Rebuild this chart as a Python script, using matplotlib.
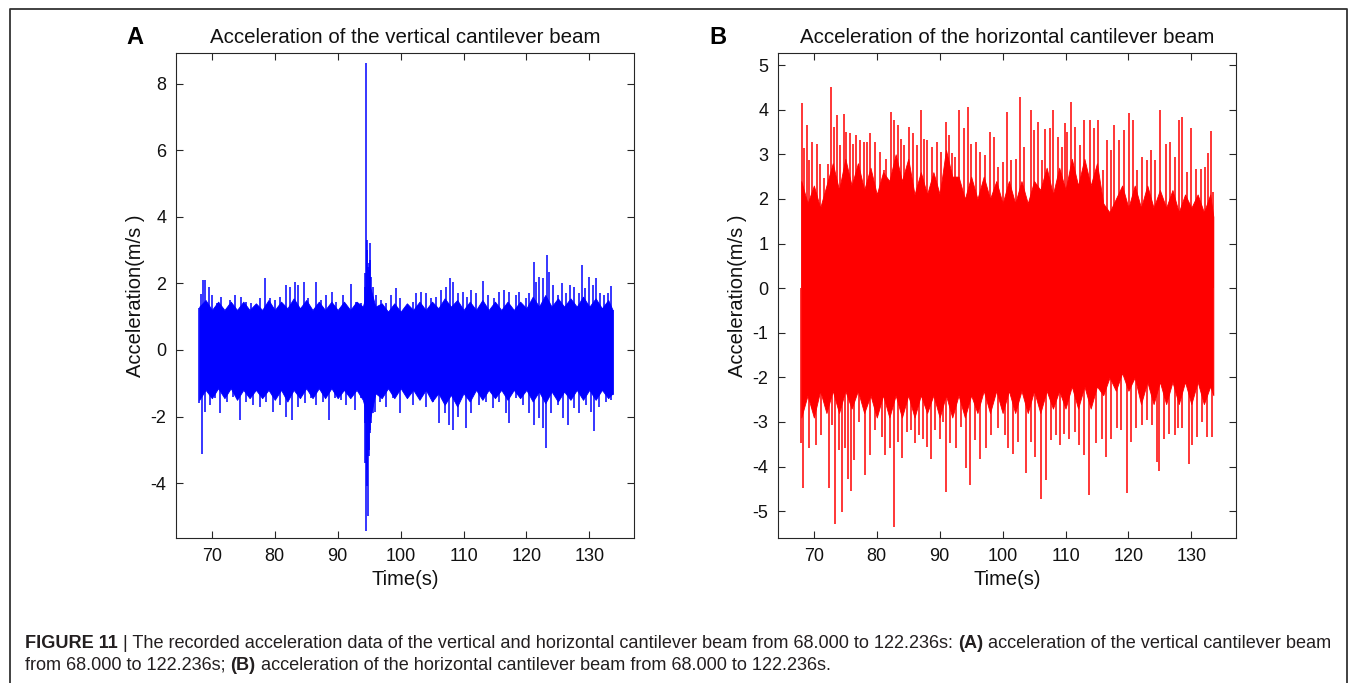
import matplotlib
matplotlib.use("Agg")
import matplotlib.pyplot as plt
from matplotlib.lines import Line2D

plt.rcParams['font.family'] = ['Liberation Sans', 'DejaVu Sans']

# ---------------- data ----------------
# Panel A: vertical cantilever beam - positive peaks
a_hi_t = [67.99, 68.20, 68.62, 68.89, 69.58, 69.95, 70.74, 71.53, 72.86, 73.65, 74.71, 75.50,
          76.30, 77.62, 78.41, 79.21, 80.00, 80.79, 81.85, 82.38, 83.17, 83.70, 84.60, 85.29,
          86.61, 87.41, 88.20, 89.15, 89.79, 90.85, 92.06, 92.96, 93.76, 96.14, 96.93, 97.72,
          98.52, 99.31, 99.84, 100.90, 101.96, 102.49, 103.28, 104.07, 104.87, 105.66, 106.46,
          107.25, 107.88, 108.31, 109.10, 109.89, 110.53, 111.22, 112.01, 113.07, 113.86,
          114.92, 115.71, 116.51, 117.30, 118.36, 118.89, 119.95, 120.48, 121.16, 121.53,
          122.06, 122.59, 123.28, 123.65, 124.18, 124.97, 125.66, 126.30, 126.93, 127.62,
          128.31, 128.84, 129.37, 129.89, 130.53, 131.06, 131.69, 132.38, 132.91, 133.49, 133.70]
a_hi_v = [1.25, 1.67, 2.10, 2.10, 1.90, 1.65, 1.40, 1.60, 1.50, 1.65, 1.60, 1.45,
          1.40, 1.55, 2.15, 1.55, 1.50, 1.60, 1.95, 1.90, 2.05, 1.95, 2.05, 1.55,
          2.05, 1.50, 1.65, 1.75, 1.45, 1.65, 1.97, 1.45, 1.40, 1.65, 1.50, 1.40,
          1.65, 1.85, 1.55, 1.30, 1.45, 1.70, 1.75, 1.70, 1.55, 1.60, 1.80,
          1.90, 2.15, 2.05, 1.70, 1.75, 1.60, 1.80, 1.70, 2.07, 1.65,
          1.55, 1.75, 1.80, 1.75, 1.65, 1.75, 1.55, 1.70, 2.63, 2.05,
          2.20, 2.15, 2.85, 2.35, 1.95, 1.65, 2.00, 1.70, 1.95, 1.90,
          1.70, 2.55, 1.85, 2.20, 1.95, 2.15, 1.70, 1.65, 1.70, 1.93, 1.20]
# Panel A: negative peaks
a_lo_t = [67.99, 68.36, 68.89, 69.68, 70.48, 71.27, 72.33, 73.39, 74.55, 75.50, 76.56, 77.62,
          78.68, 79.74, 80.79, 81.85, 82.80, 83.70, 84.76, 85.82, 86.61, 87.67, 88.57, 89.52,
          90.58, 91.38, 92.70, 93.76, 95.87, 96.67, 97.72, 98.78, 99.84, 101.96, 103.02,
          104.07, 105.13, 106.08, 106.98, 107.67, 108.31, 109.10, 110.32, 111.22, 112.54,
          113.60, 114.66, 115.71, 116.77, 117.30, 118.36, 119.42, 120.48, 121.27, 122.06,
          122.59, 123.12, 123.92, 124.97, 125.77, 126.56, 127.62, 128.41, 129.47, 130.26,
          130.79, 131.59, 132.65, 133.49, 133.70]
a_lo_v = [-1.60, -3.13, -1.85, -1.65, -1.45, -1.90, -1.55, -1.40, -2.10, -1.55, -1.65, -1.70,
          -1.55, -1.85, -1.65, -2.00, -2.10, -1.70, -1.60, -1.45, -1.65, -1.55, -2.10, -1.45,
          -1.50, -1.65, -1.80, -1.45, -1.85, -1.55, -1.70, -1.45, -1.90, -1.65, -1.45,
          -1.70, -1.55, -2.20, -1.90, -2.25, -2.40, -2.00, -2.35, -1.90, -1.65,
          -1.55, -1.75, -1.55, -1.90, -2.20, -1.45, -1.65, -1.90, -2.25, -2.05,
          -2.35, -2.95, -1.90, -1.65, -2.05, -2.25, -1.75, -1.90, -1.65, -1.85,
          -2.45, -1.70, -1.55, -1.50, -1.35]
# Panel A: impact event around 94.5 s
a_ev_t = [94.30, 94.40, 94.50, 94.60, 94.70, 94.80, 94.90, 95.00, 95.10, 95.20, 95.35, 95.55]
a_ev_hi = [1.90, 2.30, 8.63, 3.00, 3.30, 2.50, 2.40, 2.60, 3.20, 2.70, 2.20, 1.90]
a_ev_lo = [-2.20, -3.40, -5.45, -4.10, -3.60, -5.00, -3.20, -3.00, -2.50, -2.40, -2.20, -1.90]
# Panel A: dense band (jagged edges)
a_core_t = [68, 69, 70, 71, 72, 73, 74, 75, 76, 77, 78, 79, 80, 81, 82, 83, 84, 85, 86, 87,
            88, 89, 90, 91, 92, 93, 94, 95, 96, 97, 98, 99, 100, 101, 102, 103, 104, 105,
            106, 107, 108, 109, 110, 111, 112, 113, 114, 115, 116, 117, 118, 119, 120, 121,
            122, 123, 124, 125, 126, 127, 128, 129, 130, 131, 132, 133, 133.7]
a_core_hi = [1.30, 1.50, 1.20, 1.45, 1.20, 1.45, 1.20, 1.45, 1.20, 1.40, 1.20, 1.50, 1.20,
             1.45, 1.25, 1.55, 1.25, 1.50, 1.20, 1.45, 1.20, 1.45, 1.20, 1.45, 1.20, 1.45,
             1.30, 2.00, 1.30, 1.40, 1.15, 1.40, 1.15, 1.40, 1.20, 1.45, 1.20, 1.45, 1.25,
             1.55, 1.30, 1.50, 1.20, 1.45, 1.20, 1.50, 1.20, 1.45, 1.20, 1.45, 1.20, 1.45,
             1.25, 1.60, 1.30, 1.65, 1.30, 1.55, 1.30, 1.55, 1.30, 1.60, 1.30, 1.55, 1.25,
             1.50, 1.20]
a_core_lo = [-1.50, -1.20, -1.45, -1.15, -1.45, -1.15, -1.50, -1.20, -1.45, -1.20, -1.45,
             -1.20, -1.50, -1.20, -1.55, -1.20, -1.45, -1.15, -1.45, -1.15, -1.45, -1.15,
             -1.45, -1.20, -1.45, -1.20, -1.50, -2.20, -1.30, -1.45, -1.15, -1.45, -1.15,
             -1.45, -1.20, -1.50, -1.20, -1.55, -1.30, -1.65, -1.35, -1.70, -1.30, -1.55,
             -1.20, -1.50, -1.20, -1.45, -1.20, -1.50, -1.20, -1.45, -1.20, -1.55, -1.25,
             -1.60, -1.25, -1.55, -1.25, -1.50, -1.20, -1.50, -1.20, -1.50, -1.20, -1.45, -1.30]

# Panel B: horizontal cantilever beam - positive peaks
b_hi_t = [68.15, 68.42, 68.84, 69.21, 69.74, 70.53, 71.05, 71.58, 72.21, 72.79, 73.16, 73.69,
          74.22, 74.74, 75.17, 75.69, 76.22, 76.64, 77.27, 77.91, 78.43, 78.86, 79.75, 80.44,
          81.07, 81.49, 82.23, 82.81, 83.34, 83.81, 84.34, 85.13, 85.81, 86.34, 87.03, 87.50,
          88.03, 88.71, 89.50, 90.14, 90.93, 91.51, 92.03, 92.46, 93.04, 93.83, 94.46, 95.04,
          95.83, 96.36, 97.15, 97.94, 98.57, 99.26, 100.05, 100.73, 101.37, 102.16, 102.79,
          103.47, 104.48, 105.06, 105.69, 106.27, 106.69, 107.53, 107.95, 108.75, 109.43,
          109.91, 110.27, 110.91, 111.54, 112.28, 112.96, 113.86, 114.54, 115.23, 116.02,
          116.65, 117.18, 117.71, 118.50, 119.29, 120.08, 120.71, 121.40, 122.19, 122.98,
          123.66, 124.19, 125.09, 125.98, 126.67, 127.35, 128.09, 128.51, 129.36, 129.99,
          130.73, 131.52, 132.20, 132.62, 133.10, 133.42]
b_hi_v = [4.14, 3.13, 3.65, 2.87, 3.28, 3.24, 2.79, 2.46, 2.79, 4.50, 3.62, 3.88,
          3.20, 3.91, 3.50, 3.47, 3.24, 3.43, 3.32, 3.28, 3.28, 3.48, 3.28, 3.05,
          2.64, 2.90, 3.94, 3.76, 3.65, 3.35, 3.20, 3.62, 3.48, 3.20, 4.00, 3.35,
          3.32, 3.17, 3.28, 3.05, 3.73, 3.43, 3.02, 2.94, 4.00, 3.58, 4.06, 3.24,
          3.28, 3.05, 2.98, 3.50, 3.39, 2.72, 2.83, 3.95, 2.87, 2.90, 4.29,
          3.17, 3.99, 3.54, 3.73, 2.87, 3.56, 3.58, 4.00, 3.39, 3.17,
          3.69, 3.50, 4.18, 3.62, 3.20, 3.76, 3.76, 3.58, 3.76, 2.64,
          3.32, 3.09, 3.65, 3.32, 3.54, 3.93, 3.76, 2.64, 2.94, 2.87,
          3.09, 2.87, 3.99, 3.24, 3.28, 2.94, 3.76, 3.84, 2.60, 3.58,
          2.68, 2.68, 2.72, 3.03, 3.53, 2.16]
# Panel B: negative peaks
b_lo_t = [68.00, 68.31, 69.21, 69.74, 70.37, 71.16, 72.42, 72.90, 73.43, 73.95, 74.48, 75.01,
          75.38, 75.96, 76.43, 77.12, 78.07, 78.96, 79.75, 80.81, 81.33, 82.12, 82.76, 83.44,
          84.07, 84.76, 85.39, 86.08, 86.66, 87.40, 87.92, 88.56, 89.29, 90.03, 90.56, 90.93,
          91.61, 92.56, 93.46, 94.25, 94.88, 95.57, 96.46, 97.41, 98.20, 99.26, 100.31,
          100.84, 101.63, 102.42, 103.74, 104.53, 105.21, 106.16, 106.90, 107.69, 108.48,
          109.11, 109.80, 110.59, 111.54, 112.17, 112.96, 113.75, 114.81, 115.86, 116.49,
          117.18, 118.23, 118.76, 119.71, 120.34, 121.13, 122.08, 122.98, 123.77, 124.56,
          124.93, 125.61, 126.40, 127.35, 127.88, 128.51, 129.67, 130.10, 130.89, 131.68,
          132.47, 133.36]
b_lo_v = [-3.48, -4.49, -3.59, -2.69, -3.52, -3.29, -4.49, -3.07, -5.28, -3.63, -5.01, -3.59,
          -4.27, -4.55, -3.85, -2.99, -4.18, -3.74, -3.18, -3.33, -3.74, -3.59, -5.35, -3.44,
          -3.80, -3.22, -3.18, -3.48, -3.29, -3.37, -3.56, -3.82, -3.18, -3.37, -2.99, -4.57,
          -3.48, -3.59, -3.11, -4.04, -4.42, -3.41, -3.82, -3.59, -3.29, -3.14, -3.29,
          -3.59, -3.71, -3.44, -4.15, -3.44, -3.78, -4.73, -4.30, -3.41, -3.29,
          -3.52, -3.26, -3.37, -3.22, -3.52, -3.74, -4.63, -3.48, -3.37, -3.78,
          -3.37, -3.14, -3.18, -4.60, -3.44, -3.14, -3.07, -2.96, -3.07, -3.89,
          -4.10, -3.37, -3.26, -3.29, -3.14, -3.14, -3.95, -3.52, -3.33, -2.99,
          -3.33, -3.33]
# Panel B: dense band (jagged edges)
b_core_t = [68, 69, 70, 71, 72, 73, 74, 75, 76, 77, 78, 79, 80, 81, 82, 83, 84, 85, 86, 87,
            88, 89, 90, 91, 92, 93, 94, 95, 96, 97, 98, 99, 100, 101, 102, 103, 104, 105,
            106, 107, 108, 109, 110, 111, 112, 113, 114, 115, 116, 117, 118, 119, 120, 121,
            122, 123, 124, 125, 126, 127, 128, 129, 130, 131, 132, 133, 133.5]
b_core_hi = [2.40, 1.90, 2.30, 1.80, 2.30, 2.80, 2.20, 2.90, 2.30, 2.80, 2.20, 2.70, 2.10,
             2.60, 2.40, 3.00, 2.40, 2.90, 2.10, 2.60, 2.10, 2.60, 2.10, 3.10, 2.50, 2.50,
             2.00, 2.50, 2.00, 2.50, 2.00, 2.40, 1.90, 2.40, 1.90, 2.40, 1.90, 2.40, 2.20,
             2.70, 2.10, 2.70, 2.20, 2.90, 2.30, 2.90, 2.30, 2.80, 1.90, 1.70, 2.00, 2.30,
             1.80, 2.30, 1.80, 2.30, 1.80, 2.20, 1.80, 2.20, 1.70, 2.10, 1.80, 2.10, 1.70,
             2.10, 1.60]
b_core_lo = [-2.90, -2.40, -2.90, -2.30, -2.80, -2.30, -2.80, -2.30, -2.70, -2.30, -2.80,
             -2.40, -2.90, -2.40, -2.90, -2.40, -2.90, -2.40, -2.90, -2.40, -2.80, -2.40,
             -2.90, -2.40, -2.90, -2.40, -2.90, -2.40, -2.80, -2.30, -2.80, -2.30, -2.80,
             -2.30, -2.80, -2.30, -2.80, -2.30, -2.80, -2.30, -2.70, -2.30, -2.70, -2.20,
             -2.70, -2.20, -2.70, -2.20, -2.40, -2.00, -2.30, -1.90, -2.30, -2.00, -2.60,
             -2.10, -2.60, -2.10, -2.60, -2.10, -2.60, -2.10, -2.60, -2.10, -2.60, -2.20, -2.40]

x_ticks = [70, 80, 90, 100, 110, 120, 130]
a_yticks = [-4, -2, 0, 2, 4, 6, 8]
b_yticks = [-5, -4, -3, -2, -1, 0, 1, 2, 3, 4, 5]

titles = ["Acceleration of the vertical cantilever beam",
          "Acceleration of the horizontal cantilever beam"]
panel_letters = ["A", "B"]
xlabel = "Time(s)"
ylabel = "Acceleration(m/s )"

# ---------------- figure ----------------
W, H = 1355, 683
fig = plt.figure(figsize=(W / 100, H / 100), dpi=100)


def px_axes(l, t, r, b):
    return [l / W, 1 - b / H, (r - l) / W, (b - t) / H]


axA = fig.add_axes(px_axes(176, 53, 634, 538))
axB = fig.add_axes(px_axes(778, 53, 1236, 538))

spine_c = '#262626'


def draw_panel(ax, color, core_t, core_hi, core_lo, hi_t, hi_v, lo_t, lo_v, ylim, yticks):
    ax.fill_between(core_t, core_lo, core_hi, color=color, lw=0.6)
    ax.vlines(hi_t, 0, hi_v, color=color, lw=1.1)
    ax.vlines(lo_t, lo_v, 0, color=color, lw=1.1)
    ax.set_xlim(64.3, 137.1)
    ax.set_ylim(*ylim)
    ax.set_xticks(x_ticks)
    ax.set_yticks(yticks)
    ax.set_yticklabels([str(v) for v in yticks])
    ax.tick_params(direction='in', top=True, right=True, length=5, width=0.8,
                   labelsize=13, pad=7, colors=spine_c, labelcolor='#111111')
    for s in ax.spines.values():
        s.set_color(spine_c)
        s.set_linewidth(0.8)
    ax.set_xlabel(xlabel, fontsize=14.5, labelpad=4, color='#111111')
    ax.set_ylabel(ylabel, fontsize=14.5, labelpad=4, color='#111111')


draw_panel(axA, '#0000ff', a_core_t, a_core_hi, a_core_lo, a_hi_t, a_hi_v, a_lo_t, a_lo_v,
           (-5.65, 8.92), a_yticks)
axA.vlines(a_ev_t, a_ev_lo, a_ev_hi, color='#0000ff', lw=1.1)
draw_panel(axB, '#ff0000', b_core_t, b_core_hi, b_core_lo, b_hi_t, b_hi_v, b_lo_t, b_lo_v,
           (-5.6, 5.27), b_yticks)

for ax, ttl in zip([axA, axB], titles):
    ax.set_title(ttl, fontsize=14.8, pad=7, color='#111111')

fig.text(135 / W, 1 - 38 / H, panel_letters[0], fontsize=17, fontweight='bold', ha='center', va='center')
fig.text(718 / W, 1 - 38 / H, panel_letters[1], fontsize=17, fontweight='bold', ha='center', va='center')

# frame around the figure
fig.add_artist(Line2D([10 / W, 10 / W, 1347 / W, 1347 / W], [0, 1 - 9 / H, 1 - 9 / H, 0],
                      transform=fig.transFigure, color='#333333', lw=1.3))

# caption, built from bold and regular pieces
cap1 = [("FIGURE 11", 'bold'),
        (" | The recorded acceleration data of the vertical and horizontal cantilever beam from 68.000 to 122.236s: ", 'normal'),
        ("(A)", 'bold'),
        (" acceleration of the vertical cantilever beam", 'normal')]
cap2 = [("from 68.000 to 122.236s; ", 'normal'),
        ("(B)", 'bold'),
        (" acceleration of the horizontal cantilever beam from 68.000 to 122.236s.", 'normal')]

renderer = fig.canvas.get_renderer()


def line_width(pieces, fs):
    tot = 0
    for s, w in pieces:
        t = fig.text(0, 0, s, fontsize=fs, fontweight=w)
        tot += t.get_window_extent(renderer).width
        t.remove()
    return tot


fs_cap = 10 * 1312 / line_width(cap1, 10)


def place(pieces, x0, yc, fs):
    x = x0
    for s, w in pieces:
        t = fig.text(x / W, 1 - yc / H, s, fontsize=fs, fontweight=w, va='center',
                     ha='left', color='#231f20')
        x += t.get_window_extent(renderer).width


place(cap1, 25, 643, fs_cap)
place(cap2, 25, 665, fs_cap)

fig.savefig("out.png", dpi=100)
